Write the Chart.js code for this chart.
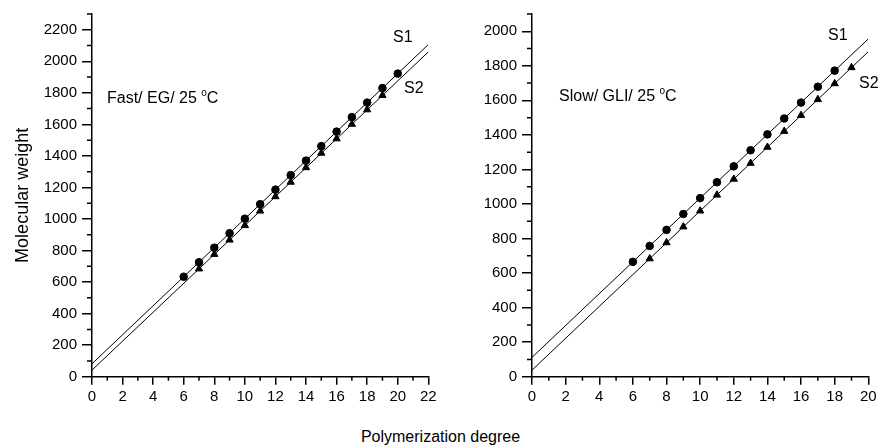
<!DOCTYPE html>
<html>
<head>
<meta charset="utf-8">
<script src="https://cdn.jsdelivr.net/npm/chart.js@4"></script>
<style>
  body { margin: 0; background: #fff; }
  #wrap { position: relative; width: 881px; height: 447px; font-family: "Liberation Sans", Arial, sans-serif; color: #000; }
  canvas { position: absolute; top: 0; }
  .lbl { position: absolute; line-height: 1; white-space: nowrap; }
  .lbl sup { font-size: 10px; vertical-align: baseline; position: relative; top: -7px; }
</style>
</head>
<body>
<div id="wrap">
  <canvas id="fastChart" width="440" height="420" style="left:0"></canvas>
  <canvas id="slowChart" width="441" height="420" style="left:440px"></canvas>
  <div class="lbl" style="left:107px; top:90px; font-size:16px">Fast/ EG/ 25 <sup>o</sup>C</div>
  <div class="lbl" style="left:393px; top:29px; font-size:16px">S1</div>
  <div class="lbl" style="left:404px; top:80px; font-size:16px">S2</div>
  <div class="lbl" style="left:559px; top:88px; font-size:16px">Slow/ GLI/ 25 <sup>o</sup>C</div>
  <div class="lbl" style="left:828px; top:27px; font-size:16px">S1</div>
  <div class="lbl" style="left:859px; top:75px; font-size:16px">S2</div>
  <div class="lbl" style="left:0; width:881px; text-align:center; top:429px; font-size:16px">Polymerization degree</div>
</div>
<script>
// Fast / EG / 25 C
const fastDegS1 = [6, 7, 8, 9, 10, 11, 12, 13, 14, 15, 16, 17, 18, 19, 20];
const fastMwS1 = [634, 726, 818, 910, 1002, 1094, 1186, 1278, 1370, 1462, 1554, 1646, 1738, 1830, 1922];
const fastDegS2 = [7, 8, 9, 10, 11, 12, 13, 14, 15, 16, 17, 18, 19];
const fastMwS2 = [684, 776, 867, 959, 1051, 1142, 1234, 1326, 1418, 1509, 1601, 1693, 1784];
const fastFitX = [0, 22];
const fastFitS1 = [82, 2106];
const fastFitS2 = [42, 2059];

// Slow / GLI / 25 C
const slowDegS1 = [6, 7, 8, 9, 10, 11, 12, 13, 14, 15, 16, 17, 18];
const slowMwS1 = [665, 757, 850, 942, 1034, 1126, 1218, 1311, 1403, 1495, 1587, 1679, 1772];
const slowDegS2 = [7, 8, 9, 10, 11, 12, 13, 14, 15, 16, 17, 18, 19];
const slowMwS2 = [683, 776, 868, 960, 1052, 1144, 1236, 1329, 1421, 1513, 1605, 1697, 1790];
const slowFitX = [0, 20];
const slowFitS1 = [112, 1956];
const slowFitS2 = [38, 1882];

const yStep = 200;
const xStep = 2;

function pairs(xs, ys) {
  return xs.map((x, i) => ({ x: x, y: ys[i] }));
}

// small unlabelled ticks between the major ones
const minorTicks = {
  id: "minorTicks",
  afterDraw(chart) {
    const ctx = chart.ctx;
    const x = chart.scales.x;
    const y = chart.scales.y;
    ctx.save();
    ctx.strokeStyle = "#000";
    ctx.lineWidth = 1.5;
    ctx.beginPath();
    for (let v = x.min + xStep / 2; v < x.max; v += xStep) {
      const px = x.getPixelForValue(v);
      ctx.moveTo(px, x.top);
      ctx.lineTo(px, x.top + 4);
    }
    for (let v = yStep / 2; v <= y.max; v += yStep) {
      const py = y.getPixelForValue(v);
      ctx.moveTo(y.right - 5, py);
      ctx.lineTo(y.right, py);
    }
    ctx.stroke();
    ctx.restore();
  },
};

function render_panel(canvasId, d) {
  const canvas = document.getElementById(canvasId);
  const tickFont = { family: "Liberation Sans", size: 15 };

  new Chart(canvas, {
    type: "scatter",
    data: {
      datasets: [
        {
          label: "S1 fit",
          data: pairs(d.fitX, d.fitS1),
          showLine: true,
          borderColor: "#000",
          borderWidth: 1,
          pointRadius: 0,
        },
        {
          label: "S2 fit",
          data: pairs(d.fitX, d.fitS2),
          showLine: true,
          borderColor: "#000",
          borderWidth: 1,
          pointRadius: 0,
        },
        {
          label: "S1",
          data: pairs(d.degS1, d.mwS1),
          pointStyle: "circle",
          pointRadius: 3.8,
          backgroundColor: "#000",
          borderColor: "#000",
        },
        {
          label: "S2",
          data: pairs(d.degS2, d.mwS2),
          pointStyle: "triangle",
          pointRadius: 4.2,
          backgroundColor: "#000",
          borderColor: "#000",
        },
      ],
    },
    options: {
      responsive: false,
      animation: false,
      layout: {
        padding: { top: 12.7, right: d.padRight, left: 0, bottom: 0 },
      },
      plugins: {
        legend: { display: false },
        tooltip: { enabled: false },
      },
      scales: {
        x: {
          type: "linear",
          min: 0,
          max: d.xMax,
          afterFit: (scale) => { scale.height = 420 - 376.7; },
          border: { display: true, color: "#000", width: 1.5 },
          grid: { drawOnChartArea: false, color: "#000", lineWidth: 1.5, tickLength: 8 },
          ticks: {
            stepSize: xStep, color: "#000", font: tickFont, padding: 3, maxRotation: 0, includeBounds: false,
            callback: (v) => String(v),
          },
        },
        y: {
          type: "linear",
          min: 0,
          max: d.yMax,
          afterFit: (scale) => { scale.width = 92; },
          border: { display: true, color: "#000", width: 1.5 },
          grid: { drawOnChartArea: false, color: "#000", lineWidth: 1.5, tickLength: 10 },
          ticks: {
            stepSize: yStep, color: "#000", font: tickFont, padding: 5, includeBounds: false,
            callback: (v) => String(v),
          },
          title: {
            display: d.yTitle !== "",
            text: d.yTitle,
            color: "#000",
            font: { family: "Liberation Sans", size: 18 },
            padding: { top: 12, bottom: 0 },
          },
        },
      },
    },
    plugins: [minorTicks],
  });
}

render_panel("fastChart", {
  degS1: fastDegS1, mwS1: fastMwS1, degS2: fastDegS2, mwS2: fastMwS2,
  fitX: fastFitX, fitS1: fastFitS1, fitS2: fastFitS2,
  xMax: 22, yMax: 2300, padRight: 11.7, yTitle: "Molecular weight",
});

render_panel("slowChart", {
  degS1: slowDegS1, mwS1: slowMwS1, degS2: slowDegS2, mwS2: slowMwS2,
  fitX: slowFitX, fitS1: slowFitS1, fitS2: slowFitS2,
  xMax: 20, yMax: 2100, padRight: 12.7, yTitle: "",
});
</script>
</body>
</html>
